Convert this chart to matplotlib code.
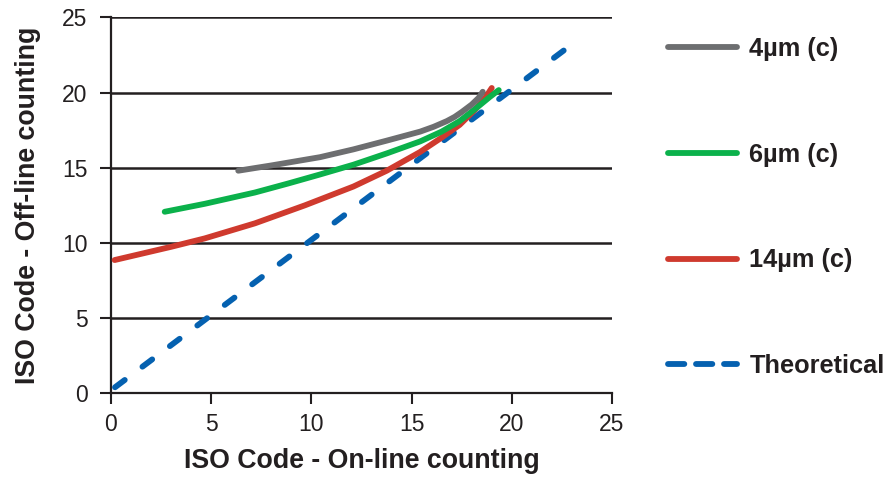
import matplotlib.pyplot as plt
from matplotlib.lines import Line2D

plt.rcParams["font.family"] = ["Liberation Sans", "DejaVu Sans"]

# curves (x = on-line ISO code, y = off-line ISO code)
gray_x = [6.35, 8.0, 10.43, 12.1, 13.76, 15.43, 16.1, 16.76, 17.15, 17.5, 18.0, 18.35, 18.55]
gray_y = [14.8, 15.15, 15.7, 16.22, 16.8, 17.4, 17.72, 18.1, 18.38, 18.7, 19.2, 19.65, 20.05]

green_x = [2.68, 4.68, 7.18, 8.84, 10.43, 12.1, 13.76, 15.43, 16.5, 17.4, 18.26, 18.9, 19.35]
green_y = [12.07, 12.6, 13.35, 13.95, 14.55, 15.2, 15.95, 16.75, 17.4, 18.1, 19.0, 19.7, 20.16]

red_x = [0.18, 3.0, 4.68, 7.18, 9.68, 12.1, 13.76, 15.43, 16.5, 17.4, 18.2, 18.7, 19.0]
red_y = [8.86, 9.74, 10.3, 11.3, 12.5, 13.75, 14.8, 16.05, 17.0, 17.85, 18.9, 19.7, 20.3]

theo_x = [0.2, 22.6]
theo_y = [0.4, 22.8]

labels = ["4µm (c)", "6µm (c)", "14µm (c)", "Theoretical"]
colors = ["#6d6e70", "#0bb14b", "#cf3a2e", "#0561b0"]
ticks = [0, 5, 10, 15, 20, 25]

fig = plt.figure(figsize=(8.93, 4.78), dpi=100)
ax = fig.add_axes([0.1243, 0.1772, 0.5610, 0.7866])

lw = 4.2
ax.plot(theo_x, theo_y, color=colors[3], lw=lw, dashes=(2.09, 3.79),
        dash_capstyle="round", zorder=3)
ax.plot(red_x, red_y, color=colors[2], lw=lw, solid_capstyle="round",
        solid_joinstyle="round", zorder=4)
ax.plot(green_x, green_y, color=colors[1], lw=lw, solid_capstyle="round",
        solid_joinstyle="round", zorder=5)
ax.plot(gray_x, gray_y, color=colors[0], lw=lw, solid_capstyle="round",
        solid_joinstyle="round", zorder=6)

ax.set_xlim(0, 25)
ax.set_ylim(0, 25)
ax.set_xticks(ticks)
ax.set_yticks(ticks)
ax.tick_params(labelsize=16.5, length=8, width=1.5, color="#231f20",
               labelcolor="#231f20")
ax.tick_params(axis="x", pad=6)
ax.tick_params(axis="y", pad=9)
ax.yaxis.grid(True, color="#231f20", lw=1.8)
ax.set_axisbelow(True)
for s in ["top", "right"]:
    ax.spines[s].set_visible(False)
for s in ["left", "bottom"]:
    ax.spines[s].set_linewidth(1.6)
    ax.spines[s].set_color("#231f20")

ax.set_xlabel("ISO Code - On-line counting", fontsize=19.3, fontweight="bold",
              color="#231f20", labelpad=9)
ax.set_ylabel("ISO Code - Off-line counting", fontsize=19.3, fontweight="bold",
              color="#231f20", labelpad=15)

handles = [Line2D([], [], color=colors[0], lw=lw, solid_capstyle="round"),
           Line2D([], [], color=colors[1], lw=lw, solid_capstyle="round"),
           Line2D([], [], color=colors[2], lw=lw, solid_capstyle="round"),
           Line2D([], [], color=colors[3], lw=lw, dashes=(2.8, 2.0),
                  dash_capstyle="round")]
leg = fig.legend(handles, labels, loc="upper left", bbox_to_anchor=(0.748, 0.923),
                 frameon=False, borderpad=0, borderaxespad=0, handlelength=2.7,
                 handletextpad=0.5, labelspacing=3.22,
                 prop={"size": 18.3, "weight": "bold"})
for t in leg.get_texts():
    t.set_color("#231f20")

fig.savefig("out.png", dpi=100)
